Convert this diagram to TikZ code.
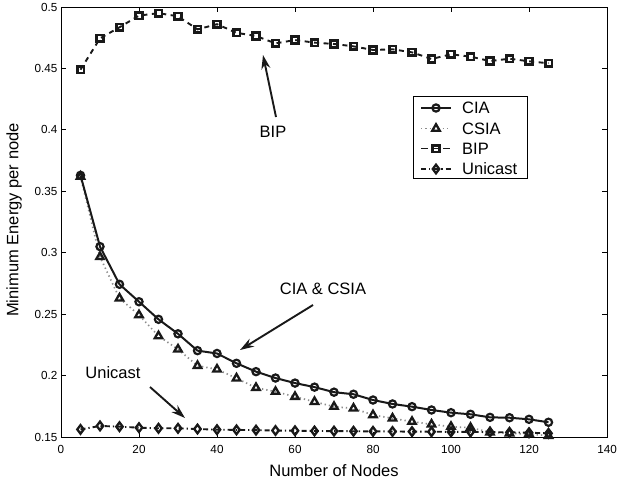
\documentclass[tikz,border=0pt]{standalone}
\usepackage{fontspec}
\setmainfont{Liberation Sans}
\usetikzlibrary{plotmarks,arrows.meta,calc}
\begin{document}
\begin{tikzpicture}[x=1pt,y=-1pt,
  lab/.style={font=\fontsize{16.5}{19}\selectfont, inner sep=0pt},
  ticklab/.style={font=\fontsize{11.7}{13}\selectfont, inner sep=0pt},
  cia/.style={black!90, line width=2pt, mark=o, mark size=3.6pt, mark options={solid, line width=2.2pt}},
  csia/.style={black!45, line width=1.7pt, dash pattern=on 1.3pt off 3pt, mark=triangle, mark size=4.3pt, mark options={solid, black!90, line width=2.3pt}},
  bipline/.style={black!90, line width=1.9pt, dash pattern=on 5pt off 4.5pt, mark=square, mark size=3.3pt, mark options={solid, black!90, line width=2.6pt}},
  uni/.style={black!90, line width=1.9pt, dash pattern=on 5pt off 3pt on 1.3pt off 3pt, mark=diamond, mark size=4.3pt, mark options={solid, black!90, line width=2.3pt}},
  callout/.style={line width=1.9pt, black!90, -{Stealth[length=14pt,width=9pt]}}]
\useasboundingbox (0,0) rectangle (617,483);
\fill[white] (0,0) rectangle (617,483);
% axes frame
\draw[line width=1pt] (61,7) rectangle (607,437);
\begin{scope}[shift={(61pt,-437pt)}, x=3.9pt, y=1228.57pt]
  \foreach \t in {20,40,...,120} {
    \draw[line width=0.9pt] (\t,0) -- ++(0,5pt);
    \draw[line width=0.9pt] (\t,0.35) -- ++(0,-5pt);
  }
  \foreach \t in {0,20,...,140} \node[ticklab] (xt\t) at ($(\t,0)+(0,-12pt)$) {\t};
  \foreach \v/\l in {0.05/0.2,0.1/0.25,0.15/0.3,0.2/0.35,0.25/0.4,0.3/0.45} {
    \draw[line width=0.9pt] (0,\v) -- ++(5pt,0);
    \draw[line width=0.9pt] (140,\v) -- ++(-5pt,0);
  }
  \foreach \v/\l in {0/0.15,0.05/0.2,0.1/0.25,0.15/0.3,0.2/0.35,0.25/0.4,0.3/0.45,0.35/0.5}
    \node[ticklab, anchor=east] (yt\l) at ($(0,\v)+(-3.5pt,0)$) {\l};
  % curves (y = value - 0.15)
  \draw[csia] plot coordinates {(5,0.212) (10,0.1466) (15,0.1129) (20,0.0993) (25,0.0822) (30,0.0714) (35,0.058) (40,0.0551) (45,0.0478) (50,0.0401) (55,0.0369) (60,0.0328) (65,0.0287) (70,0.0247) (75,0.0233) (80,0.0179) (85,0.0152) (90,0.0125) (95,0.0103) (100,0.0084) (105,0.0076) (110,0.0038) (115,0.003) (120,0.0025) (125,0.001)};
  \draw[uni] plot coordinates {(5,0.0062) (10,0.009) (15,0.0084) (20,0.0076) (25,0.0071) (30,0.0071) (35,0.0065) (40,0.006) (45,0.0058) (50,0.0056) (55,0.0053) (60,0.0051) (65,0.0049) (70,0.0048) (75,0.0047) (80,0.0046) (85,0.0045) (90,0.0044) (95,0.0043) (100,0.0042) (105,0.0041) (110,0.004) (115,0.0038) (120,0.0035) (125,0.003)};
  \draw[cia] plot coordinates {(5,0.213) (10,0.155) (15,0.1243) (20,0.1101) (25,0.0958) (30,0.084) (35,0.0703) (40,0.068) (45,0.06) (50,0.0532) (55,0.048) (60,0.0439) (65,0.0406) (70,0.0365) (75,0.0348) (80,0.0301) (85,0.0269) (90,0.0247) (95,0.022) (100,0.0198) (105,0.0185) (110,0.016) (115,0.0157) (120,0.0144) (125,0.012)};
  \draw[bipline] plot coordinates {(5,0.299) (10,0.3245) (15,0.3335) (20,0.343) (25,0.345) (30,0.3424) (35,0.3318) (40,0.336) (45,0.329) (50,0.3264) (55,0.3204) (60,0.3231) (65,0.321) (70,0.3199) (75,0.318) (80,0.315) (85,0.3156) (90,0.3131) (95,0.3077) (100,0.3115) (105,0.3096) (110,0.306) (115,0.3079) (120,0.3058) (125,0.3042)};
\end{scope}
% axis labels
\node[lab] (xlabel) at (334,471) {Number of Nodes};
\node[lab, rotate=90] (ylabel) at (14,220) {Minimum Energy per node};
% annotations
\node[lab] (bipnote) at (273,132) {BIP};
\coordinate (bipA) at (276,117);
\coordinate (bipB) at (263,55);
\draw[callout] (bipA) -- (bipB);
\node[lab] (csianote) at (323,289) {CIA \& CSIA};
\coordinate (csA) at (313,305);
\coordinate (csB) at (240,350);
\draw[callout] (csA) -- (csB);
\node[lab] (uninote) at (113,373) {Unicast};
\coordinate (unA) at (150,387);
\coordinate (unB) at (185,418);
\draw[callout] (unA) -- (unB);
% legend
\node[draw, line width=1pt, minimum width=114pt, minimum height=82pt, inner sep=0pt] (legend) at (470,137) {};
\draw[cia, mark indices={2}] plot coordinates {(421,108) (436,108) (451,108)};
\draw[csia, mark indices={2}] plot coordinates {(421,128.5) (436,128.5) (451,128.5)};
\draw[bipline, dash pattern=on 7pt off 4pt, mark indices={2}] plot coordinates {(421,148.5) (436,148.5) (451,148.5)};
\draw[uni, mark indices={2}] plot coordinates {(421,169) (436,169) (451,169)};
\node[lab, anchor=west] (lg1) at (462,108) {CIA};
\node[lab, anchor=west] (lg2) at (462,128.5) {CSIA};
\node[lab, anchor=west] (lg3) at (462,148.5) {BIP};
\node[lab, anchor=west] (lg4) at (462,169) {Unicast};
\end{tikzpicture}
\end{document}
